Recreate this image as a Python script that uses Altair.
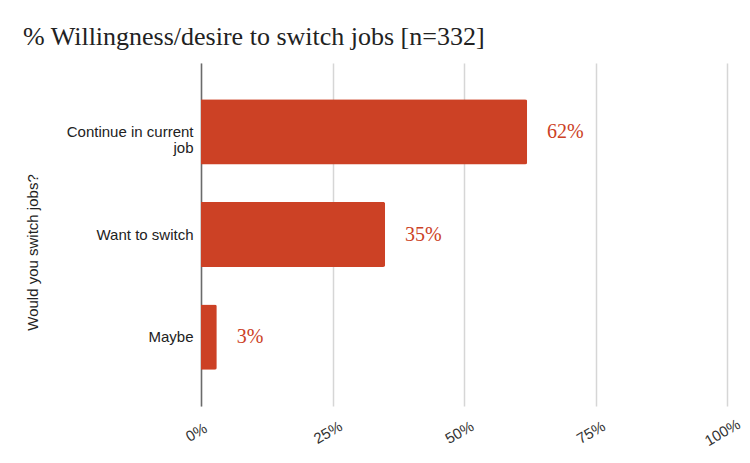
import altair as alt
import pandas as pd

categories = ["Continue in current job", "Want to switch", "Maybe"]
values = [62, 35, 3]
labels = ["62%", "35%", "3%"]
x_ticks = [0, 25, 50, 75, 100]

df = pd.DataFrame({"answer": categories, "pct": values, "label": labels})

RED = "#cc4125"

y_enc = alt.Y(
    "answer:N",
    sort=categories,
    scale=alt.Scale(paddingInner=0.365, paddingOuter=0.354),
    axis=alt.Axis(
        title="Would you switch jobs?",
        labelExpr="datum.label == 'Continue in current job' ? ['Continue in current', 'job'] : datum.label",
        domain=True,
        domainColor="#6b6b6b",
        domainWidth=1.5,
        ticks=False,
        grid=False,
        labelPadding=8,
        labelFont="Liberation Sans",
        labelFontSize=15,
        labelColor="#222222",
        labelLineHeight=16,
        titleFont="Liberation Sans",
        titleFontSize=15,
        titleFontWeight="normal",
        titleColor="#222222",
        titleX=-169,
        titleY=189,
        titleAlign="center",
        titleBaseline="middle",
    ),
)

x_enc = alt.X(
    "pct:Q",
    scale=alt.Scale(domain=[0, 100]),
    axis=alt.Axis(
        title=None,
        values=x_ticks,
        labelExpr="datum.value + '%'",
        grid=True,
        gridColor="#d6d6d6",
        gridWidth=1.5,
        domain=False,
        ticks=False,
        labelAngle=-30,
        labelAlign="center",
        labelBaseline="middle",
        labelPadding=26,
        labelOffset=-5,
        labelFont="Liberation Sans",
        labelFontSize=15,
        labelColor="#333333",
    ),
)

bars = alt.Chart(df).mark_bar(color=RED, cornerRadiusEnd=2).encode(y=y_enc, x=x_enc)

text = alt.Chart(df).mark_text(
    align="left", baseline="middle", dx=20,
    font="Liberation Serif", fontSize=20, color=RED,
).encode(y=alt.Y("answer:N", sort=categories), x="pct:Q", text="label:N")

chart = (
    alt.layer(bars, text)
    .properties(
        width=526,
        height=343,
        title=alt.TitleParams(
            "% Willingness/desire to switch jobs [n=332]",
            font="Liberation Serif",
            fontSize=26,
            fontWeight="normal",
            color="#222222",
            anchor="start",
            frame="group",
            dx=-178,
            dy=24,
            offset=16,
            baseline="alphabetic",
        ),
        autosize=alt.AutoSizeParams(type="none"),
        padding={"left": 193, "top": 55, "right": 15, "bottom": 46},
    )
    .configure_view(stroke=None)
)

chart.save("out.html", embed_options={"renderer": "svg", "actions": False})
